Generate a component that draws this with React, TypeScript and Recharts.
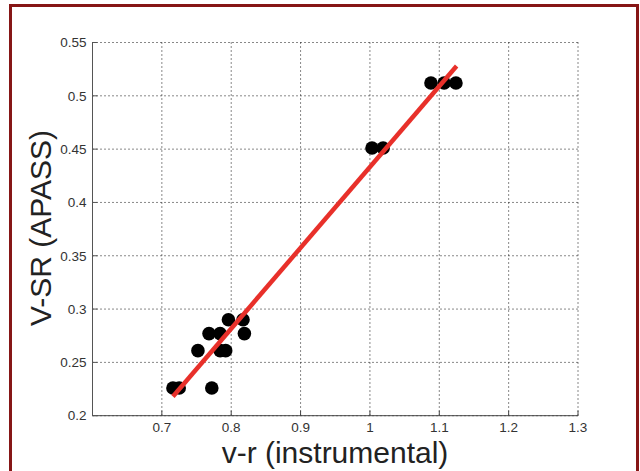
import React from "react";
import { CartesianGrid, Label, Scatter, ScatterChart, XAxis, YAxis } from "recharts";

// measured points: v-r (instrumental) vs V-SR (APASS)
const pointX = [0.716, 0.725, 0.772, 0.752, 0.784, 0.792, 0.768, 0.784, 0.819, 0.796, 0.817, 1.003, 1.019, 1.088, 1.107, 1.124];
const pointY = [0.226, 0.226, 0.226, 0.261, 0.261, 0.261, 0.277, 0.277, 0.277, 0.29, 0.29, 0.451, 0.451, 0.512, 0.512, 0.512];

// linear fit end points
const fitX = [0.716, 1.125];
const fitY = [0.218, 0.528];

const xTicks = [0.7, 0.8, 0.9, 1, 1.1, 1.2, 1.3];
const yTicks = [0.2, 0.25, 0.3, 0.35, 0.4, 0.45, 0.5, 0.55];

const points = pointX.map((x, i) => ({ x, y: pointY[i] }));
const fit = fitX.map((x, i) => ({ x, y: fitY[i] }));

const tickStyle = { fontSize: 13.5, fill: "#333", fontFamily: "'Liberation Sans', Arial, sans-serif" };

function Dot(props: any) {
  return <circle cx={props.cx} cy={props.cy} r={6.8} fill="#000" />;
}

export default function App() {
  return (
    <div style={{ position: "absolute", left: 0, top: 0, width: 640, height: 471, background: "#fff", overflow: "hidden" }}>
      <ScatterChart width={640} height={471} margin={{ top: 42.5, right: 62, left: 32.5, bottom: 25.3 }}>
        <CartesianGrid stroke="#111" strokeDasharray="1 3" />
        <XAxis
          type="number"
          dataKey="x"
          domain={[0.6, 1.3]}
          ticks={xTicks}
          allowDataOverflow
          height={30}
          tickSize={-5}
          tickMargin={12}
          tick={tickStyle}
          stroke="#444"
          tickFormatter={(v: number) => String(v)}
        >
          <Label
            content={() => (
              <text x={335} y={463} textAnchor="middle" fontSize={30} fill="#222" fontFamily="'Liberation Sans', Arial, sans-serif">
                v-r (instrumental)
              </text>
            )}
          />
        </XAxis>
        <YAxis
          type="number"
          dataKey="y"
          domain={[0.2, 0.55]}
          ticks={yTicks}
          allowDataOverflow
          width={60}
          tickSize={-5}
          tickMargin={11}
          tick={tickStyle}
          stroke="#555"
          tickFormatter={(v: number) => String(v)}
        >
          <Label
            content={() => (
              <text
                x={51}
                y={228}
                transform="rotate(-90 51 228)"
                textAnchor="middle"
                fontSize={30}
                fill="#222"
                fontFamily="'Liberation Sans', Arial, sans-serif"
              >
                V-SR (APASS)
              </text>
            )}
          />
        </YAxis>
        <Scatter data={points} shape={<Dot />} isAnimationActive={false} />
        <Scatter
          data={fit}
          line={{ stroke: "#e8302a", strokeWidth: 4.5 }}
          shape={() => <g />}
          isAnimationActive={false}
        />
      </ScatterChart>
      <div
        style={{
          position: "absolute",
          left: 9,
          top: 4,
          width: 630,
          height: 520,
          border: "3px solid #861616",
          boxSizing: "border-box",
          pointerEvents: "none",
        }}
      />
    </div>
  );
}
